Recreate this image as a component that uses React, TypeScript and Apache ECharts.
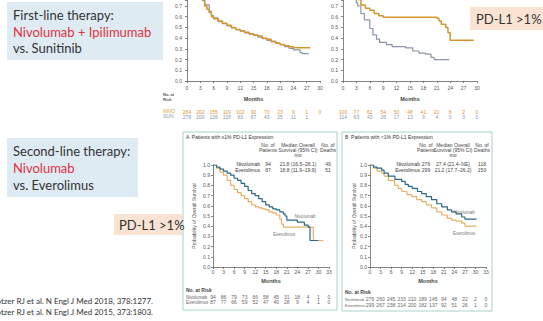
import React, { useEffect, useRef } from "react";
import * as echarts from "echarts";

// ---------- Data ----------
// Top-left: NIVO+IPI vs SUN (Kaplan-Meier, months, survival probability)
const tlNivo: [number, number][] = [
  [0, 1.0], [1, 0.97], [2, 0.9], [3, 0.8], [3.5, 0.76], [4, 0.7], [4.5, 0.67], [5, 0.64], [5.5, 0.6],
  [6, 0.58], [7, 0.56], [8, 0.54], [9, 0.52], [10, 0.5], [11, 0.48], [12, 0.47], [13, 0.455], [14, 0.44],
  [15, 0.43], [16, 0.42], [17, 0.4], [18, 0.39], [19, 0.37], [20, 0.355], [21, 0.34], [22, 0.33],
  [23, 0.32], [24, 0.31], [27.8, 0.31],
];
const tlSun: [number, number][] = [
  [0, 1.0], [1, 0.96], [2, 0.9], [3, 0.81], [3.5, 0.75], [4, 0.71], [5, 0.65], [5.5, 0.61], [6, 0.59],
  [7, 0.555], [8, 0.535], [9, 0.515], [10, 0.495], [11, 0.48], [12, 0.465], [13, 0.45], [14, 0.44],
  [15, 0.425], [16, 0.41], [17, 0.395], [18, 0.38], [19, 0.365], [20, 0.35], [21, 0.34], [22, 0.32],
  [23, 0.305], [24, 0.29], [25.5, 0.265], [26, 0.255], [27.5, 0.255],
];
// Top-right: PD-L1 >1%
const trNivo: [number, number][] = [
  [0, 1.0], [1, 0.95], [2, 0.87], [2.5, 0.8], [3, 0.76], [4, 0.71], [5, 0.68], [6, 0.66], [7, 0.63],
  [8, 0.61], [9, 0.595], [21, 0.585], [21.5, 0.56], [22, 0.53], [23, 0.5], [23.5, 0.45], [24, 0.38],
  [29.3, 0.38],
];
const trSun: [number, number][] = [
  [0, 1.0], [1, 0.92], [2, 0.84], [3, 0.73], [3.3, 0.7], [4, 0.63], [4.8, 0.57], [6, 0.49], [6.7, 0.43],
  [7.5, 0.39], [8.2, 0.36], [9.7, 0.34], [11, 0.32], [14, 0.31], [15.6, 0.28], [17, 0.26], [18.5, 0.25],
  [19.7, 0.22], [20.4, 0.2], [23.8, 0.2],
];
// Bottom-left A: >=1% PD-L1
const blNivo: [number, number][] = [
  [0, 1.0], [1, 0.98], [2, 0.96], [3, 0.94], [4, 0.92], [5, 0.9], [6, 0.87], [7, 0.85], [8, 0.82],
  [9, 0.79], [10, 0.75], [11, 0.72], [12, 0.7], [13, 0.67], [14, 0.64], [15, 0.61], [16, 0.59],
  [17, 0.57], [18, 0.56], [19, 0.54], [20, 0.52], [20.5, 0.5], [21, 0.46], [23.5, 0.46], [24, 0.44],
  [25, 0.44], [26, 0.41], [27.1, 0.39], [27.6, 0.26], [30, 0.26],
];
const blEve: [number, number][] = [
  [0, 1.0], [1, 0.97], [2, 0.93], [3, 0.9], [4, 0.85], [5, 0.8], [6, 0.76], [7, 0.73], [8, 0.7],
  [9, 0.67], [10, 0.64], [11, 0.61], [12, 0.59], [13, 0.58], [14, 0.57], [15, 0.56], [16, 0.54],
  [17, 0.53], [18, 0.51], [19, 0.47], [19.5, 0.42], [20, 0.39], [28.5, 0.39], [28.6, 0.26], [31.4, 0.26],
];
// Bottom-right B: <1% PD-L1
const brNivo: [number, number][] = [
  [0, 1.0], [1, 0.98], [2, 0.97], [3.3, 0.95], [4, 0.92], [5.2, 0.89], [7.1, 0.86], [9, 0.84],
  [10, 0.81], [10.9, 0.79], [12, 0.77], [13.5, 0.74], [14.7, 0.72], [16, 0.69], [17.5, 0.66],
  [19, 0.62], [20.4, 0.59], [22, 0.56], [23.2, 0.54], [24.5, 0.52], [26.1, 0.49], [27, 0.47],
  [30.3, 0.47],
];
const brEve: [number, number][] = [
  [0, 1.0], [1, 0.97], [2, 0.94], [3.3, 0.92], [4, 0.89], [5.2, 0.85], [7, 0.8], [8, 0.77], [9, 0.74],
  [10.5, 0.71], [11.9, 0.69], [13.3, 0.66], [14.7, 0.64], [16, 0.61], [17.5, 0.58], [19, 0.54],
  [20.4, 0.51], [22, 0.48], [23.2, 0.46], [24.5, 0.45], [26.1, 0.43], [27, 0.4], [30.3, 0.4],
];

// Numbers at risk (every 3 months)
const tlRiskNivo = [284, 202, 155, 119, 102, 90, 70, 23, 9, 1, 0];
const tlRiskSun = [278, 200, 136, 105, 83, 67, 43, 25, 11, 1];
const trRiskNivo = [100, 77, 61, 54, 50, 48, 41, 21, 8, 2, 0];
const trRiskSun = [114, 63, 43, 26, 17, 13, 9, 4, 0, 0, 0];
const blRiskNivo = [94, 86, 79, 73, 66, 58, 45, 31, 18, 4, 1, 0];
const blRiskEve = [87, 77, 66, 59, 52, 47, 40, 28, 9, 4, 1, 0];
const brRiskNivo = [276, 260, 245, 233, 210, 189, 145, 94, 48, 22, 2, 0];
const brRiskEve = [299, 267, 238, 214, 200, 182, 137, 92, 51, 26, 1, 0];

// Summary tables
const tableA = [
  ["Nivolumab", "94", "21.8 (16.5–28.1)", "49"],
  ["Everolimus", "87", "18.8 (11.9–19.9)", "51"],
];
const tableB = [
  ["Nivolumab", "276", "27.4 (21.4–NE)", "118"],
  ["Everolimus", "299", "21.2 (17.7–26.2)", "150"],
];

// The top panels are cropped: only survival up to this value is visible
const TOP_VISIBLE_MAX = 0.756;

const ORANGE_TOP = "#d8952f";
const GRAY_TOP = "#8b95a6";
const BLUE = "#2c6886";
const TAN = "#e8b166";
const AXIS = "#666";
const LBL = "#555";
const FONT = "Liberation Sans";
const SLIDE_FONT = "Lato";

function kmXAxes(
  gridIndex: number, max: number, riskA: number[], riskB: number[],
  colA: string, colB: string, labelMargin: number, nameGap: number,
  mA: number, mB: number
) {
  const main = {
    type: "value", gridIndex, min: 0, max, interval: 3,
    axisLine: { show: true, lineStyle: { color: AXIS, width: 0.8 } },
    axisTick: { show: true, length: 2, lineStyle: { color: AXIS, width: 0.8 } },
    axisLabel: { fontSize: 5, color: LBL, margin: labelMargin, fontFamily: FONT },
    splitLine: { show: false },
    name: "Months", nameLocation: "middle", nameGap,
    nameTextStyle: { fontSize: 5.5, fontWeight: "bold", color: "#444", fontFamily: FONT },
  };
  const risk = (arr: number[], color: string, margin: number) => ({
    type: "value", gridIndex, min: 0, max, interval: 3, position: "bottom",
    axisLine: { show: false }, axisTick: { show: false }, splitLine: { show: false },
    axisLabel: {
      fontSize: 5, color, margin, fontFamily: FONT,
      formatter: (v: number) => {
        const r = arr[Math.round(v / 3)];
        return r === undefined ? "" : String(r);
      },
    },
  });
  return [main, risk(riskA, colA, mA), risk(riskB, colB, mB)];
}

function kmYAxis(gridIndex: number, max: number, name: string, nameGap: number, labelMargin: number) {
  return {
    type: "value", gridIndex, min: 0, max, interval: 0.1,
    axisLine: { show: true, lineStyle: { color: AXIS, width: 0.8 } },
    axisTick: { show: true, length: 2, lineStyle: { color: AXIS, width: 0.8 } },
    axisLabel: {
      fontSize: 5, color: LBL, margin: labelMargin, fontFamily: FONT,
      formatter: (v: number) => (Math.abs(v * 10 - Math.round(v * 10)) < 1e-6 ? v.toFixed(1) : ""),
    },
    splitLine: { show: false },
    name, nameLocation: "middle", nameGap, nameRotate: 90,
    nameTextStyle: { fontSize: 5, color: "#555", fontFamily: FONT },
  };
}

function km(data: [number, number][], xi: number, yi: number, color: string, width: number) {
  return {
    type: "line", step: "end", data, xAxisIndex: xi, yAxisIndex: yi,
    showSymbol: false, symbol: "none", clip: true,
    lineStyle: { color, width }, silent: true,
  };
}

const txt = (x: number, y: number, text: string, o: any = {}) => ({
  type: "text", x, y, silent: true, z: 10,
  style: {
    text, fontSize: o.fontSize ?? 5, fill: o.fill ?? "#444", fontFamily: o.fontFamily ?? FONT,
    fontWeight: o.fontWeight ?? "normal", align: o.align ?? "left", verticalAlign: o.va ?? "middle",
    lineHeight: o.lineHeight,
  },
});

function tableGraphics(rows: string[][], cols: number[], labelRight: number, yTop: number) {
  const out: any[] = [];
  out.push(txt(cols[0], yTop, "No. of\nPatients", { align: "center", va: "top", lineHeight: 5.5 }));
  out.push(txt(cols[1], yTop, "Median Overall\nSurvival (95% CI)", { align: "center", va: "top", lineHeight: 5.5 }));
  out.push(txt(cols[2], yTop, "No. of\nDeaths", { align: "center", va: "top", lineHeight: 5.5 }));
  out.push(txt(cols[1], yTop + 13, "mo", { align: "center" }));
  rows.forEach((r, i) => {
    const y = yTop + 22 + i * 5.5;
    out.push(txt(labelRight, y, r[0], { align: "right", fill: "#333" }));
    out.push(txt(cols[0], y, r[1], { align: "center" }));
    out.push(txt(cols[1], y, r[2], { align: "center" }));
    out.push(txt(cols[2], y, r[3], { align: "center" }));
  });
  return out;
}

export default function App() {
  const ref = useRef<HTMLDivElement>(null);
  useEffect(() => {
    document.body.style.margin = "0";
    const chart = echarts.init(ref.current!, undefined, { renderer: "svg" });
    const slide = { fontSize: 13, fill: "#333", fontFamily: SLIDE_FONT };
    const red = { ...slide, fill: "#e0323e" };
    const graphic: any[] = [
      // Slide text boxes
      { type: "rect", shape: { x: 7, y: 2, width: 156, height: 58 }, style: { fill: "#deebf3" }, z: -5, silent: true },
      txt(13, 15, "First-line therapy:", slide),
      txt(13, 32, "Nivolumab + Ipilimumab", red),
      txt(13, 48, "vs. Sunitinib", slide),
      { type: "rect", shape: { x: 7, y: 138, width: 131, height: 59 }, style: { fill: "#deebf3" }, z: -5, silent: true },
      txt(13, 151, "Second-line therapy:", slide),
      txt(13, 168, "Nivolumab", red),
      txt(13, 185, "vs. Everolimus", slide),
      { type: "rect", shape: { x: 470, y: 7, width: 73, height: 23 }, style: { fill: "#fbe3d3" }, z: -5, silent: true },
      txt(476, 19, "PD-L1 >1%", slide),
      { type: "rect", shape: { x: 114, y: 214, width: 68, height: 21 }, style: { fill: "#fbe3d3" }, z: -6, silent: true },
      txt(119, 225, "PD-L1 >1%", slide),
      txt(153, 301, "Motzer RJ et al. N Engl J Med 2018, 378:1277.", { fontSize: 8, fill: "#333", fontFamily: SLIDE_FONT, align: "right" }),
      txt(153, 312, "Motzer RJ et al. N Engl J Med 2015, 373:1803.", { fontSize: 8, fill: "#333", fontFamily: SLIDE_FONT, align: "right" }),
      // Top-left at-risk labels
      txt(163, 97, "No. at\nRisk", { fontSize: 4, fontWeight: "bold", fill: "#555", lineHeight: 4.5 }),
      txt(163, 111, "NIVO", { fontSize: 5, fill: ORANGE_TOP }),
      txt(163, 116, "SUN", { fontSize: 5, fill: GRAY_TOP }),
      // Panel boxes
      { type: "rect", shape: { x: 183, y: 132, width: 154, height: 178 }, style: { fill: "#fff", stroke: "#a9d2cd", lineWidth: 1 }, z: -4, silent: true },
      { type: "rect", shape: { x: 342, y: 132, width: 150, height: 179 }, style: { fill: "#fff", stroke: "#a9d2cd", lineWidth: 1 }, z: -4, silent: true },
      txt(186, 137, "A  Patients with ≥1% PD-L1 Expression", { fontSize: 5, fill: "#333" }),
      txt(345, 137, "B  Patients with <1% PD-L1 Expression", { fontSize: 5, fill: "#333" }),
      ...tableGraphics(tableA, [268, 298, 328], 260, 142),
      ...tableGraphics(tableB, [426, 453, 482], 420, 142),
      txt(305, 216, "Nivolumab", { fontSize: 4.5, fill: "#777", align: "center" }),
      txt(284, 234, "Everolimus", { fontSize: 4.5, fill: "#777", align: "center" }),
      txt(464, 212, "Nivolumab", { fontSize: 4.5, fill: "#777", align: "center" }),
      txt(464, 233, "Everolimus", { fontSize: 4.5, fill: "#777", align: "center" }),
      txt(186, 290, "No. at Risk", { fontSize: 5, fontWeight: "bold", fill: "#444" }),
      txt(186, 297, "Nivolumab", { fontSize: 4.5, fill: "#666" }),
      txt(186, 302, "Everolimus", { fontSize: 4.5, fill: "#666" }),
      txt(345, 292, "No. at Risk", { fontSize: 5, fontWeight: "bold", fill: "#444" }),
      txt(345, 299, "Nivolumab", { fontSize: 4, fill: "#666" }),
      txt(345, 305, "Everolimus", { fontSize: 4, fill: "#666" }),
    ];

    chart.setOption({
      animation: false,
      textStyle: { fontFamily: FONT },
      grid: [
        { left: 187, top: 0, width: 133, height: 81 },
        { left: 343, top: 0, width: 134, height: 81 },
        { left: 213, top: 165, width: 116, height: 102 },
        { left: 370, top: 165, width: 116, height: 102 },
      ],
      xAxis: [
        ...kmXAxes(0, 30, tlRiskNivo, tlRiskSun, ORANGE_TOP, GRAY_TOP, 4, 15, 28, 33),
        ...kmXAxes(1, 30, trRiskNivo, trRiskSun, ORANGE_TOP, GRAY_TOP, 4, 15, 28, 33),
        ...kmXAxes(2, 33, blRiskNivo, blRiskEve, "#666", "#666", 2.5, 11, 27.5, 32.5),
        ...kmXAxes(3, 33, brRiskNivo, brRiskEve, "#666", "#666", 2.5, 11, 29.5, 35.5),
      ],
      yAxis: [
        kmYAxis(0, TOP_VISIBLE_MAX, "", 10, 5),
        kmYAxis(1, TOP_VISIBLE_MAX, "", 10, 5),
        kmYAxis(2, 1, "Probability of Overall Survival", 17, 3),
        kmYAxis(3, 1, "Probability of Overall Survival", 13, 3),
      ],
      series: [
        km(tlSun, 0, 0, GRAY_TOP, 1.2),
        km(tlNivo, 0, 0, ORANGE_TOP, 1.5),
        km(trSun, 3, 1, GRAY_TOP, 1.2),
        km(trNivo, 3, 1, ORANGE_TOP, 1.5),
        km(blEve, 6, 2, TAN, 1.2),
        km(blNivo, 6, 2, BLUE, 1.2),
        km(brEve, 9, 3, TAN, 1.2),
        km(brNivo, 9, 3, BLUE, 1.2),
      ],
      graphic,
    });
    return () => chart.dispose();
  }, []);
  return <div ref={ref} style={{ width: 543, height: 321 }} />;
}
